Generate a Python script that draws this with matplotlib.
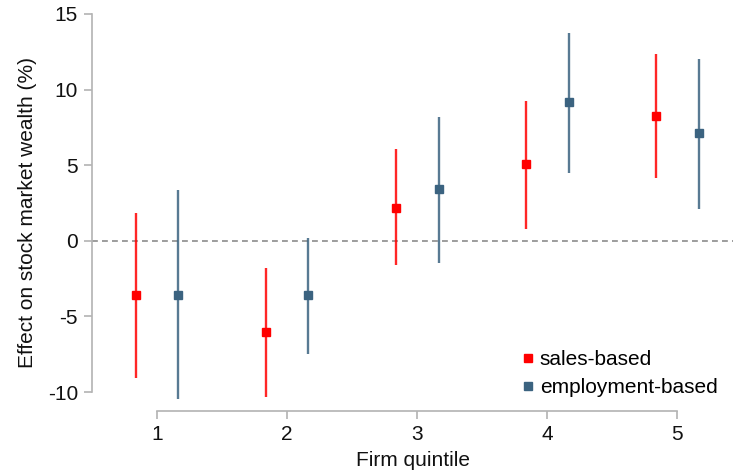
import matplotlib
matplotlib.use("Agg")
import matplotlib.pyplot as plt
import numpy as np

plt.rcParams['font.family'] = ['Liberation Sans', 'DejaVu Sans']

quintiles = [1, 2, 3, 4, 5]

sales_est = [-3.6, -6.05, 2.2, 5.05, 8.25]
sales_lo = [-9.1, -10.3, -1.6, 0.8, 4.15]
sales_hi = [1.85, -1.8, 6.05, 9.25, 12.35]

emp_est = [-3.55, -3.6, 3.4, 9.15, 7.1]
emp_lo = [-10.45, -7.45, -1.45, 4.5, 2.1]
emp_hi = [3.35, 0.2, 8.2, 13.75, 12.05]

red = '#ff0000'
blue = '#3b6380'
grey = '#b3b3b3'
fs = 15

fig = plt.figure(figsize=(7.33, 4.71), dpi=100)
ax = fig.add_axes([92 / 733, (471 - 411) / 471, (733 - 92) / 733, (411 - 14) / 471])

x = np.array(quintiles, dtype=float)
off = 0.165

for xs, est, lo, hi, col, lab in [
    (x - off, sales_est, sales_lo, sales_hi, red, 'sales-based'),
    (x + off, emp_est, emp_lo, emp_hi, blue, 'employment-based'),
]:
    ax.vlines(xs, lo, hi, color=col, lw=1.7, alpha=0.85, zorder=2)
    ax.plot(xs, est, ls='none', marker='s', ms=6, color=col, label=lab, zorder=3)

ax.axhline(0, color='#8c8c8c', lw=1.2, ls=(0, (3.5, 2.5)), zorder=1)

ax.set_xlim(0.5, 5.43)
ax.set_ylim(-11.25, 15)
ax.set_xticks(quintiles)
ax.set_yticks([-10, -5, 0, 5, 10, 15])
ax.set_yticklabels(['-10', '-5', '0', '5', '10', '15'])

for s in ['top', 'right']:
    ax.spines[s].set_visible(False)
ax.spines['left'].set_bounds(-10, 15)
ax.spines['bottom'].set_bounds(1, 5)
for s in ['left', 'bottom']:
    ax.spines[s].set_color(grey)
    ax.spines[s].set_linewidth(1.2)
ax.tick_params(axis='both', colors=grey, length=6, width=1.2, labelsize=fs, labelcolor='#111111', pad=4)

ax.set_xlabel('Firm quintile', fontsize=fs, color='#111111', labelpad=5)
ax.set_ylabel('Effect on stock market wealth (%)', fontsize=fs, color='#111111', labelpad=8)

ax.legend(loc='lower right', bbox_to_anchor=(1.005, -0.013), frameon=False, fontsize=fs,
          handletextpad=0.05, handlelength=1.0, markerscale=1.0, labelspacing=0.45)

fig.savefig('out.png', dpi=100)
